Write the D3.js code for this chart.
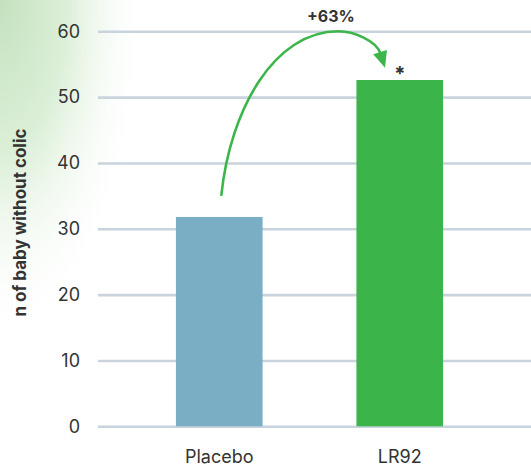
<!DOCTYPE html>
<html>
<head>
<meta charset="utf-8">
<script src="https://cdn.jsdelivr.net/npm/d3@7"></script>
<style>
  html, body { margin: 0; padding: 0; background: #fff; }
  svg { display: block; font-family: Inter, "Noto Sans", sans-serif; }
</style>
</head>
<body>
<svg id="chart" width="531" height="468"></svg>
<script>
// Data
const categories = ["Placebo", "LR92"];
const values = [31.8, 52.6];
const barColors = ["#79aec4", "#3bb54a"];
const yTicks = [0, 10, 20, 30, 40, 50, 60];
const yLabel = "n of baby without colic";
const changeLabel = "+63%";
const sigMark = "*";

const W = 531, H = 468;
const svg = d3.select("#chart");

// Soft green wash in the top-left corner
const defs = svg.append("defs");
const wash = defs.append("radialGradient")
  .attr("id", "wash")
  .attr("gradientUnits", "userSpaceOnUse")
  .attr("cx", 0).attr("cy", 0).attr("r", 1)
  .attr("gradientTransform", "scale(150,345)");
wash.append("stop").attr("offset", 0).attr("stop-color", "#c3e1be").attr("stop-opacity", 1);
wash.append("stop").attr("offset", 0.45).attr("stop-color", "#d9eed5").attr("stop-opacity", 0.92);
wash.append("stop").attr("offset", 1).attr("stop-color", "#ffffff").attr("stop-opacity", 0);
svg.append("rect").attr("width", W).attr("height", H).attr("fill", "url(#wash)");

// Scales
const plotLeft = 98, plotRight = W;
const y = d3.scaleLinear().domain([0, 60]).range([426.3, 31.3]);
const x = d3.scaleBand().domain(categories).range([129, 490])
  .paddingInner(0.52).paddingOuter(0.26);

// Y axis with full-width gridlines
const yAxis = svg.append("g")
  .attr("transform", `translate(${plotLeft},0)`)
  .call(d3.axisLeft(y).tickValues(yTicks).tickSize(-(plotRight - plotLeft)).tickPadding(18));
yAxis.select(".domain").remove();
yAxis.selectAll(".tick line").attr("stroke", "#c9d3dd").attr("stroke-width", 2.6);
yAxis.selectAll(".tick text")
  .attr("font-size", 18).attr("fill", "#333").attr("font-family", "Inter, sans-serif");

// Bars
svg.append("g").selectAll("rect")
  .data(categories.map((c, i) => ({ c, v: values[i], color: barColors[i] })))
  .join("rect")
  .attr("x", d => x(d.c))
  .attr("width", x.bandwidth())
  .attr("y", d => y(d.v))
  .attr("height", d => y(0) - y(d.v))
  .attr("fill", d => d.color);

// X axis labels
const xAxis = svg.append("g")
  .attr("transform", `translate(0,${y(0)})`)
  .call(d3.axisBottom(x).tickSize(0).tickPadding(24));
xAxis.select(".domain").remove();
xAxis.selectAll(".tick text")
  .attr("font-size", 18).attr("fill", "#333").attr("font-family", "Inter, sans-serif");

// Y axis title
svg.append("text")
  .attr("transform", "rotate(-90)")
  .attr("x", -222.5).attr("y", 25.5)
  .attr("text-anchor", "middle")
  .attr("font-size", 17).attr("font-weight", 700).attr("fill", "#333")
  .text(yLabel);

// Curved arrow from Placebo up and over to LR92
const green = "#3cb54a";
const sx = x("Placebo") + x.bandwidth() / 2 + 2, sy = y(35);
const px = x("LR92") - 18, py = y(60);
const tipX = x("LR92") + 28.6, tipY = y(values[1] + 1.85);
const dirLen = Math.hypot(0.3, 0.95);
const dx = 0.3 / dirLen, dy = 0.95 / dirLen;
const headLen = 16.5, headHalf = 7.2;
const bx = tipX - headLen * dx, by = tipY - headLen * dy;

const path = d3.path();
path.moveTo(sx, sy);
path.bezierCurveTo(sx + 9, sy - 87, px - 64, py, px, py);
path.bezierCurveTo(px + 15, py, bx - 12 * dx, by - 12 * dy, bx + 1.5 * dx, by + 1.5 * dy);
svg.append("path").attr("d", path.toString())
  .attr("fill", "none").attr("stroke", green).attr("stroke-width", 2.6);

svg.append("path")
  .attr("d", d3.line()([
    [tipX, tipY],
    [bx - headHalf * dy, by + headHalf * dx],
    [bx + headHalf * dy, by - headHalf * dx]
  ]) + "Z")
  .attr("fill", green);

// Change label above the arrow
svg.append("text")
  .attr("x", px - 7.6).attr("y", py - 9)
  .attr("text-anchor", "middle")
  .attr("font-size", 16).attr("font-weight", 700).attr("fill", "#333")
  .text(changeLabel);

// Significance mark above LR92
svg.append("text")
  .attr("x", x("LR92") + x.bandwidth() / 2).attr("y", y(values[1]) + 1)
  .attr("text-anchor", "middle")
  .attr("font-size", 20).attr("font-weight", 700).attr("fill", "#333")
  .text(sigMark);
</script>
</body>
</html>
